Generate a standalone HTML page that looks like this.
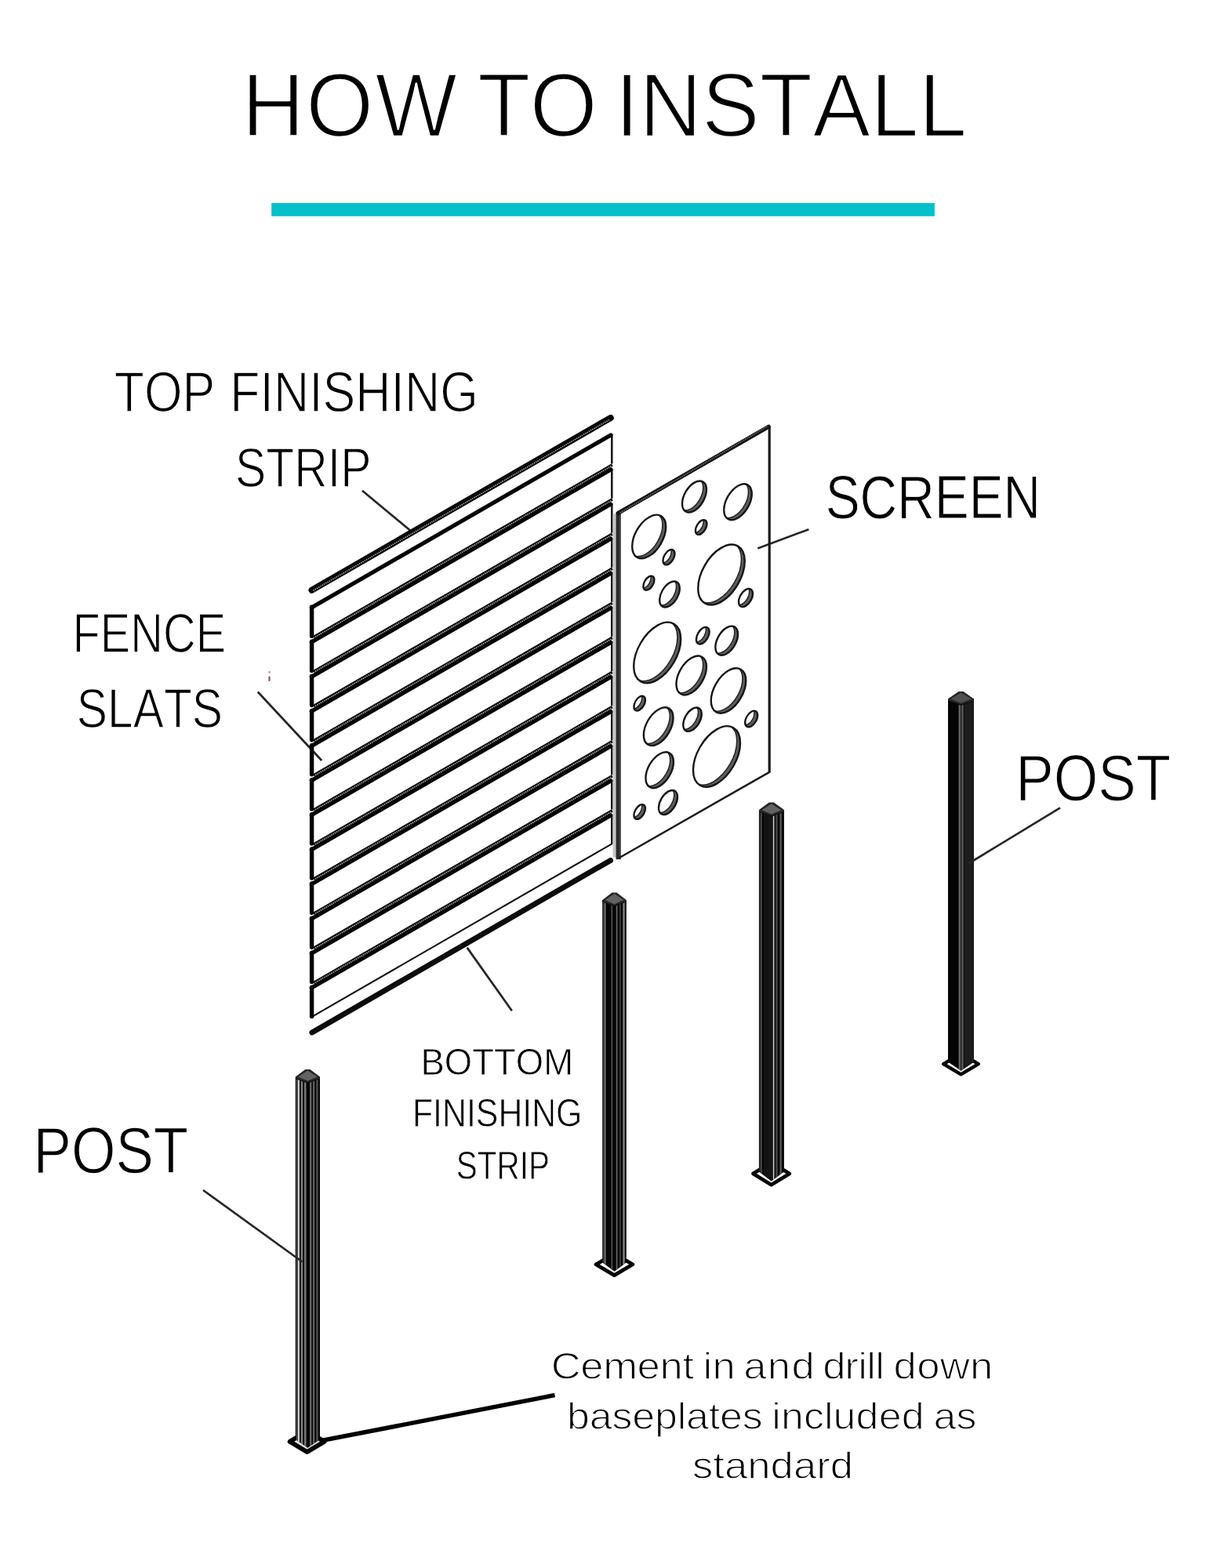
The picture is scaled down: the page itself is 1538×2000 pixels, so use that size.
<!DOCTYPE html>
<html lang="en">
<head>
<meta charset="utf-8">
<title>How to install</title>
<style>
html,body{margin:0;padding:0;background:#fff;}
body{width:1538px;height:2000px;overflow:hidden;}
svg{display:block;will-change:transform;}
text{font-family:"Liberation Sans",sans-serif;white-space:pre;}
</style>
</head>
<body>
<svg width="1538" height="2000" viewBox="0 0 1538 2000">
<rect width="1538" height="2000" fill="#fff"/>
<rect x="346.2" y="259" width="845.7" height="16.8" fill="#04c0c9"/>
<text transform="scale(0.9604 1)" x="321 406.17 498.02 608.24 633.93 703.49 792.86 816.71 848.58 931.75 1008.56 1078.88 1155.71 1219.75" y="174" font-size="115.7" fill="#000" stroke="#fff" stroke-width="2.6" stroke-linejoin="round">HOW TO INSTALL</text>
<text transform="scale(0.8694 1)" x="167.78 211.67 267.56 315.52 337.35 381.34 401.37 453.38 473.41 521.46 573.47 593.51 645.53" y="524.8" font-size="71.95" fill="#000" stroke="#fff" stroke-width="1.4" stroke-linejoin="round">TOP FINISHING</text>
<text transform="scale(0.8282 1)" x="362.31 409.72 453.13 504.46 524.21" y="621.4" font-size="71.08" fill="#000" stroke="#fff" stroke-width="1.4" stroke-linejoin="round">STRIP</text>
<text transform="scale(0.8503 1)" x="1237.96 1289.63 1345.58 1401.53 1453.2 1504.87" y="661.1" font-size="77.47" fill="#000" stroke="#fff" stroke-width="1" stroke-linejoin="round">SCREEN</text>
<text transform="scale(0.8271 1)" x="111.94 154.56 201.09 251.48 301.86" y="832.5" font-size="69.77" fill="#000" stroke="#fff" stroke-width="1.4" stroke-linejoin="round">FENCE</text>
<text transform="scale(0.8387 1)" x="116.66 163.39 202.36 249.08 291.88" y="927.8" font-size="70.06" fill="#000" stroke="#fff" stroke-width="1.4" stroke-linejoin="round">SLATS</text>
<text transform="scale(0.87 1)" x="1488.83 1544.58 1609.59 1665.33" y="1020.65" font-size="83.58" fill="#000" stroke="#fff" stroke-width="1.3" stroke-linejoin="round">POST</text>
<text transform="scale(0.8721 1)" x="48.7 104.25 169.03 224.59" y="1496.45" font-size="83.28" fill="#000" stroke="#fff" stroke-width="1.3" stroke-linejoin="round">POST</text>
<text transform="scale(0.9316 1)" x="575.87 608.45 646.43 676.27 706.1 744.08" y="1371.1" font-size="48.84" fill="#000" stroke="#fff" stroke-width="0.8" stroke-linejoin="round">BOTTOM</text>
<text transform="scale(0.8717 1)" x="603.34 633.35 647 682.48 696.13 728.9 764.38 778.02 813.5" y="1437.1" font-size="49.13" fill="#000" stroke="#fff" stroke-width="0.8" stroke-linejoin="round">FINISHING</text>
<text transform="scale(0.8169 1)" x="712.28 745.34 775.61 811.41 825.18" y="1504.1" font-size="49.56" fill="#000" stroke="#fff" stroke-width="0.8" stroke-linejoin="round">STRIP</text>
<text transform="scale(1.0987 1)" x="639.63 673.84 700.04 739.53 765.83 792.23 805.46 815.93 826.84 853.71 862.99 890.93 918.87 946.19 954.98 980.57 995.87 1005.98 1016.09 1026.48 1037.24 1064.12 1091.02 1125.88" y="1759.15" font-size="48" fill="#000" stroke="#fff" stroke-width="1.3" stroke-linejoin="round">Cement in and drill down</text>
<text transform="scale(1.0824 1)" x="667.97 694.48 721.01 744.84 771.35 797.92 808.46 835.02 848.22 874.74 898.66 909.34 920.09 946.89 970.97 981.71 1008.52 1035.33 1062.15 1088.9 1099.84 1126.6" y="1822.75" font-size="48" fill="#000" stroke="#fff" stroke-width="1.3" stroke-linejoin="round">baseplates included as</text>
<text transform="scale(1.0985 1)" x="803.76 827.76 841.09 867.79 894.49 921.18 947.88 963.86" y="1885.95" font-size="48" fill="#000" stroke="#fff" stroke-width="1.3" stroke-linejoin="round">standard</text>
<line x1="461.9" y1="625.7" x2="523.3" y2="676.7" stroke="#262626" stroke-width="2.7" stroke-linecap="butt"/>
<line x1="328.8" y1="882.5" x2="410.2" y2="970" stroke="#262626" stroke-width="2.7" stroke-linecap="butt"/>
<line x1="966.3" y1="699.4" x2="1031.4" y2="675.2" stroke="#262626" stroke-width="2.7" stroke-linecap="butt"/>
<line x1="595.6" y1="1208.6" x2="652.8" y2="1289.2" stroke="#262626" stroke-width="2.7" stroke-linecap="butt"/>
<line x1="410" y1="1837.6" x2="707.5" y2="1779.6" stroke="#000" stroke-width="5.6" stroke-linecap="butt"/>
<rect x="342.4" y="856.2" width="2.2" height="2.4" rx="1" fill="#a07070"/>
<rect x="342.3" y="862.6" width="2.4" height="6.4" rx="1.1" fill="#a4575a"/>
<g fill="none">
<line x1="397.6" y1="752.73" x2="778.7" y2="532.93" stroke="#0a0a0a" stroke-width="8.2" stroke-linecap="round"/>
<line x1="399.5" y1="753.13" x2="777.5" y2="535.12" stroke="#c2c2c2" stroke-width="1.5" stroke-linecap="butt" stroke-dasharray="1.3 1.3"/>
<line x1="780.3" y1="554" x2="780.3" y2="591.5" stroke="#151515" stroke-width="2.5" stroke-linecap="butt"/>
<line x1="397.6" y1="774.2" x2="397.6" y2="811.4" stroke="#000" stroke-width="5.4" stroke-linecap="round"/>
<line x1="397.3" y1="775" x2="778.9" y2="554.92" stroke="#050505" stroke-width="5.2" stroke-linecap="round"/>
<line x1="780.3" y1="598.1" x2="780.3" y2="635.6" stroke="#151515" stroke-width="2.5" stroke-linecap="butt"/>
<line x1="397.6" y1="818.3" x2="397.6" y2="855.5" stroke="#000" stroke-width="5.4" stroke-linecap="round"/>
<line x1="400.1" y1="812.49" x2="780.9" y2="592.86" stroke="#0c0c0c" stroke-width="3.7" stroke-linecap="butt"/>
<line x1="402.1" y1="812.33" x2="779.3" y2="594.78" stroke="#c2c2c2" stroke-width="1.7" stroke-linecap="butt" stroke-dasharray="1.3 1.3"/>
<line x1="397.3" y1="819.1" x2="778.9" y2="599.02" stroke="#050505" stroke-width="5.2" stroke-linecap="round"/>
<line x1="780.3" y1="642.2" x2="780.3" y2="679.7" stroke="#151515" stroke-width="2.5" stroke-linecap="butt"/>
<line x1="397.6" y1="862.4" x2="397.6" y2="899.6" stroke="#000" stroke-width="5.4" stroke-linecap="round"/>
<line x1="400.1" y1="856.59" x2="780.9" y2="636.96" stroke="#0c0c0c" stroke-width="3.7" stroke-linecap="butt"/>
<line x1="402.1" y1="856.43" x2="779.3" y2="638.88" stroke="#c2c2c2" stroke-width="1.7" stroke-linecap="butt" stroke-dasharray="1.3 1.3"/>
<line x1="397.3" y1="863.2" x2="778.9" y2="643.12" stroke="#050505" stroke-width="5.2" stroke-linecap="round"/>
<line x1="780.3" y1="686.3" x2="780.3" y2="723.8" stroke="#151515" stroke-width="2.5" stroke-linecap="butt"/>
<line x1="397.6" y1="906.5" x2="397.6" y2="943.7" stroke="#000" stroke-width="5.4" stroke-linecap="round"/>
<line x1="400.1" y1="900.69" x2="780.9" y2="681.06" stroke="#0c0c0c" stroke-width="3.7" stroke-linecap="butt"/>
<line x1="402.1" y1="900.53" x2="779.3" y2="682.98" stroke="#c2c2c2" stroke-width="1.7" stroke-linecap="butt" stroke-dasharray="1.3 1.3"/>
<line x1="397.3" y1="907.3" x2="778.9" y2="687.22" stroke="#050505" stroke-width="5.2" stroke-linecap="round"/>
<line x1="780.3" y1="730.4" x2="780.3" y2="767.9" stroke="#151515" stroke-width="2.5" stroke-linecap="butt"/>
<line x1="397.6" y1="950.6" x2="397.6" y2="987.8" stroke="#000" stroke-width="5.4" stroke-linecap="round"/>
<line x1="400.1" y1="944.79" x2="780.9" y2="725.16" stroke="#0c0c0c" stroke-width="3.7" stroke-linecap="butt"/>
<line x1="402.1" y1="944.63" x2="779.3" y2="727.08" stroke="#c2c2c2" stroke-width="1.7" stroke-linecap="butt" stroke-dasharray="1.3 1.3"/>
<line x1="397.3" y1="951.4" x2="778.9" y2="731.32" stroke="#050505" stroke-width="5.2" stroke-linecap="round"/>
<line x1="780.3" y1="774.5" x2="780.3" y2="812" stroke="#151515" stroke-width="2.5" stroke-linecap="butt"/>
<line x1="397.6" y1="994.7" x2="397.6" y2="1031.9" stroke="#000" stroke-width="5.4" stroke-linecap="round"/>
<line x1="400.1" y1="988.89" x2="780.9" y2="769.26" stroke="#0c0c0c" stroke-width="3.7" stroke-linecap="butt"/>
<line x1="402.1" y1="988.73" x2="779.3" y2="771.18" stroke="#c2c2c2" stroke-width="1.7" stroke-linecap="butt" stroke-dasharray="1.3 1.3"/>
<line x1="397.3" y1="995.5" x2="778.9" y2="775.42" stroke="#050505" stroke-width="5.2" stroke-linecap="round"/>
<line x1="780.3" y1="818.6" x2="780.3" y2="856.1" stroke="#151515" stroke-width="2.5" stroke-linecap="butt"/>
<line x1="397.6" y1="1038.8" x2="397.6" y2="1076" stroke="#000" stroke-width="5.4" stroke-linecap="round"/>
<line x1="400.1" y1="1032.99" x2="780.9" y2="813.36" stroke="#0c0c0c" stroke-width="3.7" stroke-linecap="butt"/>
<line x1="402.1" y1="1032.83" x2="779.3" y2="815.28" stroke="#c2c2c2" stroke-width="1.7" stroke-linecap="butt" stroke-dasharray="1.3 1.3"/>
<line x1="397.3" y1="1039.6" x2="778.9" y2="819.52" stroke="#050505" stroke-width="5.2" stroke-linecap="round"/>
<line x1="780.3" y1="862.7" x2="780.3" y2="900.2" stroke="#151515" stroke-width="2.5" stroke-linecap="butt"/>
<line x1="397.6" y1="1082.9" x2="397.6" y2="1120.1" stroke="#000" stroke-width="5.4" stroke-linecap="round"/>
<line x1="400.1" y1="1077.09" x2="780.9" y2="857.46" stroke="#0c0c0c" stroke-width="3.7" stroke-linecap="butt"/>
<line x1="402.1" y1="1076.93" x2="779.3" y2="859.38" stroke="#c2c2c2" stroke-width="1.7" stroke-linecap="butt" stroke-dasharray="1.3 1.3"/>
<line x1="397.3" y1="1083.7" x2="778.9" y2="863.62" stroke="#050505" stroke-width="5.2" stroke-linecap="round"/>
<line x1="780.3" y1="906.8" x2="780.3" y2="944.3" stroke="#151515" stroke-width="2.5" stroke-linecap="butt"/>
<line x1="397.6" y1="1127" x2="397.6" y2="1164.2" stroke="#000" stroke-width="5.4" stroke-linecap="round"/>
<line x1="400.1" y1="1121.19" x2="780.9" y2="901.56" stroke="#0c0c0c" stroke-width="3.7" stroke-linecap="butt"/>
<line x1="402.1" y1="1121.03" x2="779.3" y2="903.48" stroke="#c2c2c2" stroke-width="1.7" stroke-linecap="butt" stroke-dasharray="1.3 1.3"/>
<line x1="397.3" y1="1127.8" x2="778.9" y2="907.72" stroke="#050505" stroke-width="5.2" stroke-linecap="round"/>
<line x1="780.3" y1="950.9" x2="780.3" y2="988.4" stroke="#151515" stroke-width="2.5" stroke-linecap="butt"/>
<line x1="397.6" y1="1171.1" x2="397.6" y2="1208.3" stroke="#000" stroke-width="5.4" stroke-linecap="round"/>
<line x1="400.1" y1="1165.29" x2="780.9" y2="945.66" stroke="#0c0c0c" stroke-width="3.7" stroke-linecap="butt"/>
<line x1="402.1" y1="1165.13" x2="779.3" y2="947.58" stroke="#c2c2c2" stroke-width="1.7" stroke-linecap="butt" stroke-dasharray="1.3 1.3"/>
<line x1="397.3" y1="1171.9" x2="778.9" y2="951.82" stroke="#050505" stroke-width="5.2" stroke-linecap="round"/>
<line x1="780.3" y1="995" x2="780.3" y2="1032.5" stroke="#151515" stroke-width="2.5" stroke-linecap="butt"/>
<line x1="397.6" y1="1215.2" x2="397.6" y2="1252.4" stroke="#000" stroke-width="5.4" stroke-linecap="round"/>
<line x1="400.1" y1="1209.39" x2="780.9" y2="989.76" stroke="#0c0c0c" stroke-width="3.7" stroke-linecap="butt"/>
<line x1="402.1" y1="1209.23" x2="779.3" y2="991.68" stroke="#c2c2c2" stroke-width="1.7" stroke-linecap="butt" stroke-dasharray="1.3 1.3"/>
<line x1="397.3" y1="1216" x2="778.9" y2="995.92" stroke="#050505" stroke-width="5.2" stroke-linecap="round"/>
<line x1="780.3" y1="1039.1" x2="780.3" y2="1076.6" stroke="#151515" stroke-width="2.5" stroke-linecap="butt"/>
<line x1="397.6" y1="1259.3" x2="397.6" y2="1296.5" stroke="#000" stroke-width="5.4" stroke-linecap="round"/>
<line x1="400.1" y1="1253.49" x2="780.9" y2="1033.86" stroke="#0c0c0c" stroke-width="3.7" stroke-linecap="butt"/>
<line x1="402.1" y1="1253.33" x2="779.3" y2="1035.78" stroke="#c2c2c2" stroke-width="1.7" stroke-linecap="butt" stroke-dasharray="1.3 1.3"/>
<line x1="397.3" y1="1260.1" x2="778.9" y2="1040.02" stroke="#050505" stroke-width="5.2" stroke-linecap="round"/>
<line x1="399.6" y1="1295.87" x2="780.7" y2="1076.08" stroke="#111" stroke-width="2.1" stroke-linecap="butt"/>
<line x1="397.9" y1="1316.95" x2="778.6" y2="1097.39" stroke="#0d0d0d" stroke-width="6.9" stroke-linecap="round"/>
</g>
<g fill="none">
<rect x="781.6" y="655.5" width="4.4" height="438.1" fill="#c6c6c6"/>
<rect x="785.6" y="654.5" width="6.2" height="441.6" fill="#2b2b2b"/>
<rect x="790.2" y="658.5" width="1.6" height="433.1" fill="#555"/>
<line x1="788.2" y1="654.5" x2="980.2" y2="544.2" stroke="#161616" stroke-width="5.2" stroke-linecap="round"/>
<line x1="791" y1="653.9" x2="978.6" y2="543.9" stroke="#8c8c8c" stroke-width="1.3" stroke-linecap="butt" stroke-dasharray="1.3 1.3"/>
<line x1="981.2" y1="544.5" x2="981.2" y2="984.3" stroke="#1a1a1a" stroke-width="3.2" stroke-linecap="round"/>
<line x1="790" y1="1094" x2="981.2" y2="984.8" stroke="#1a1a1a" stroke-width="2.5" stroke-linecap="round"/>
</g>
<defs>
<clipPath id="h0"><circle r="17.9" transform="matrix(0.866 -0.5 0 1 885.5 633.5)"/></clipPath>
<clipPath id="h1"><circle r="20.5" transform="matrix(0.866 -0.5 0 1 941 640.2)"/></clipPath>
<clipPath id="h2"><circle r="24.83" transform="matrix(0.866 -0.5 0 1 827.7 684.5)"/></clipPath>
<clipPath id="h3"><circle r="8.37" transform="matrix(0.866 -0.5 0 1 894.2 672.5)"/></clipPath>
<clipPath id="h4"><circle r="8.66" transform="matrix(0.866 -0.5 0 1 853 710.7)"/></clipPath>
<clipPath id="h5"><circle r="34.35" transform="matrix(0.866 -0.5 0 1 920 733)"/></clipPath>
<clipPath id="h6"><circle r="8.08" transform="matrix(0.866 -0.5 0 1 827.4 743.7)"/></clipPath>
<clipPath id="h7"><circle r="14.78" transform="matrix(0.866 -0.5 0 1 854 758)"/></clipPath>
<clipPath id="h8"><circle r="10.39" transform="matrix(0.866 -0.5 0 1 951 762.5)"/></clipPath>
<clipPath id="h9"><circle r="34.64" transform="matrix(0.866 -0.5 0 1 838.2 832.5)"/></clipPath>
<clipPath id="h10"><circle r="9.64" transform="matrix(0.866 -0.5 0 1 896.3 810.7)"/></clipPath>
<clipPath id="h11"><circle r="16.57" transform="matrix(0.866 -0.5 0 1 926.7 817.2)"/></clipPath>
<clipPath id="h12"><circle r="22.23" transform="matrix(0.866 -0.5 0 1 881.7 861.5)"/></clipPath>
<clipPath id="h13"><circle r="25.69" transform="matrix(0.866 -0.5 0 1 929 881)"/></clipPath>
<clipPath id="h14"><circle r="8.37" transform="matrix(0.866 -0.5 0 1 815.7 897.2)"/></clipPath>
<clipPath id="h15"><circle r="21.77" transform="matrix(0.866 -0.5 0 1 839.7 926.7)"/></clipPath>
<clipPath id="h16"><circle r="13.57" transform="matrix(0.866 -0.5 0 1 883 917.7)"/></clipPath>
<clipPath id="h17"><circle r="9.24" transform="matrix(0.866 -0.5 0 1 958.2 917)"/></clipPath>
<clipPath id="h18"><circle r="34.64" transform="matrix(0.866 -0.5 0 1 914 965)"/></clipPath>
<clipPath id="h19"><circle r="20.5" transform="matrix(0.866 -0.5 0 1 841.2 982.2)"/></clipPath>
<clipPath id="h20"><circle r="13.86" transform="matrix(0.866 -0.5 0 1 852 1023.5)"/></clipPath>
<clipPath id="h21"><circle r="8.37" transform="matrix(0.866 -0.5 0 1 815.7 1035.5)"/></clipPath>
</defs>
<g clip-path="url(#h0)"><circle r="17.9" transform="matrix(0.866 -0.5 0 1 885.5 633.5)" fill="#5e5e5e"/><circle r="17.9" transform="matrix(0.866 -0.5 0 1 881.2 631)" fill="#fff" stroke="#242424" stroke-width="1.5" vector-effect="non-scaling-stroke"/></g>
<circle r="17.9" transform="matrix(0.866 -0.5 0 1 885.5 633.5)" fill="none" stroke="#161616" stroke-width="2.4" vector-effect="non-scaling-stroke"/>
<g clip-path="url(#h1)"><circle r="20.5" transform="matrix(0.866 -0.5 0 1 941 640.2)" fill="#5e5e5e"/><circle r="20.5" transform="matrix(0.866 -0.5 0 1 936.7 637.7)" fill="#fff" stroke="#242424" stroke-width="1.5" vector-effect="non-scaling-stroke"/></g>
<circle r="20.5" transform="matrix(0.866 -0.5 0 1 941 640.2)" fill="none" stroke="#161616" stroke-width="2.4" vector-effect="non-scaling-stroke"/>
<g clip-path="url(#h2)"><circle r="24.83" transform="matrix(0.866 -0.5 0 1 827.7 684.5)" fill="#5e5e5e"/><circle r="24.83" transform="matrix(0.866 -0.5 0 1 823.4 682)" fill="#fff" stroke="#242424" stroke-width="1.5" vector-effect="non-scaling-stroke"/></g>
<circle r="24.83" transform="matrix(0.866 -0.5 0 1 827.7 684.5)" fill="none" stroke="#161616" stroke-width="2.4" vector-effect="non-scaling-stroke"/>
<g clip-path="url(#h3)"><circle r="8.37" transform="matrix(0.866 -0.5 0 1 894.2 672.5)" fill="#5e5e5e"/><circle r="8.37" transform="matrix(0.866 -0.5 0 1 889.9 670)" fill="#fff" stroke="#242424" stroke-width="1.5" vector-effect="non-scaling-stroke"/></g>
<circle r="8.37" transform="matrix(0.866 -0.5 0 1 894.2 672.5)" fill="none" stroke="#161616" stroke-width="2.4" vector-effect="non-scaling-stroke"/>
<g clip-path="url(#h4)"><circle r="8.66" transform="matrix(0.866 -0.5 0 1 853 710.7)" fill="#5e5e5e"/><circle r="8.66" transform="matrix(0.866 -0.5 0 1 848.7 708.2)" fill="#fff" stroke="#242424" stroke-width="1.5" vector-effect="non-scaling-stroke"/></g>
<circle r="8.66" transform="matrix(0.866 -0.5 0 1 853 710.7)" fill="none" stroke="#161616" stroke-width="2.4" vector-effect="non-scaling-stroke"/>
<g clip-path="url(#h5)"><circle r="34.35" transform="matrix(0.866 -0.5 0 1 920 733)" fill="#5e5e5e"/><circle r="34.35" transform="matrix(0.866 -0.5 0 1 915.7 730.5)" fill="#fff" stroke="#242424" stroke-width="1.5" vector-effect="non-scaling-stroke"/></g>
<circle r="34.35" transform="matrix(0.866 -0.5 0 1 920 733)" fill="none" stroke="#161616" stroke-width="2.4" vector-effect="non-scaling-stroke"/>
<g clip-path="url(#h6)"><circle r="8.08" transform="matrix(0.866 -0.5 0 1 827.4 743.7)" fill="#5e5e5e"/><circle r="8.08" transform="matrix(0.866 -0.5 0 1 823.1 741.2)" fill="#fff" stroke="#242424" stroke-width="1.5" vector-effect="non-scaling-stroke"/></g>
<circle r="8.08" transform="matrix(0.866 -0.5 0 1 827.4 743.7)" fill="none" stroke="#161616" stroke-width="2.4" vector-effect="non-scaling-stroke"/>
<g clip-path="url(#h7)"><circle r="14.78" transform="matrix(0.866 -0.5 0 1 854 758)" fill="#5e5e5e"/><circle r="14.78" transform="matrix(0.866 -0.5 0 1 849.7 755.5)" fill="#fff" stroke="#242424" stroke-width="1.5" vector-effect="non-scaling-stroke"/></g>
<circle r="14.78" transform="matrix(0.866 -0.5 0 1 854 758)" fill="none" stroke="#161616" stroke-width="2.4" vector-effect="non-scaling-stroke"/>
<g clip-path="url(#h8)"><circle r="10.39" transform="matrix(0.866 -0.5 0 1 951 762.5)" fill="#5e5e5e"/><circle r="10.39" transform="matrix(0.866 -0.5 0 1 946.7 760)" fill="#fff" stroke="#242424" stroke-width="1.5" vector-effect="non-scaling-stroke"/></g>
<circle r="10.39" transform="matrix(0.866 -0.5 0 1 951 762.5)" fill="none" stroke="#161616" stroke-width="2.4" vector-effect="non-scaling-stroke"/>
<g clip-path="url(#h9)"><circle r="34.64" transform="matrix(0.866 -0.5 0 1 838.2 832.5)" fill="#5e5e5e"/><circle r="34.64" transform="matrix(0.866 -0.5 0 1 833.9 830)" fill="#fff" stroke="#242424" stroke-width="1.5" vector-effect="non-scaling-stroke"/></g>
<circle r="34.64" transform="matrix(0.866 -0.5 0 1 838.2 832.5)" fill="none" stroke="#161616" stroke-width="2.4" vector-effect="non-scaling-stroke"/>
<g clip-path="url(#h10)"><circle r="9.64" transform="matrix(0.866 -0.5 0 1 896.3 810.7)" fill="#5e5e5e"/><circle r="9.64" transform="matrix(0.866 -0.5 0 1 892 808.2)" fill="#fff" stroke="#242424" stroke-width="1.5" vector-effect="non-scaling-stroke"/></g>
<circle r="9.64" transform="matrix(0.866 -0.5 0 1 896.3 810.7)" fill="none" stroke="#161616" stroke-width="2.4" vector-effect="non-scaling-stroke"/>
<g clip-path="url(#h11)"><circle r="16.57" transform="matrix(0.866 -0.5 0 1 926.7 817.2)" fill="#5e5e5e"/><circle r="16.57" transform="matrix(0.866 -0.5 0 1 922.4 814.7)" fill="#fff" stroke="#242424" stroke-width="1.5" vector-effect="non-scaling-stroke"/></g>
<circle r="16.57" transform="matrix(0.866 -0.5 0 1 926.7 817.2)" fill="none" stroke="#161616" stroke-width="2.4" vector-effect="non-scaling-stroke"/>
<g clip-path="url(#h12)"><circle r="22.23" transform="matrix(0.866 -0.5 0 1 881.7 861.5)" fill="#5e5e5e"/><circle r="22.23" transform="matrix(0.866 -0.5 0 1 877.4 859)" fill="#fff" stroke="#242424" stroke-width="1.5" vector-effect="non-scaling-stroke"/></g>
<circle r="22.23" transform="matrix(0.866 -0.5 0 1 881.7 861.5)" fill="none" stroke="#161616" stroke-width="2.4" vector-effect="non-scaling-stroke"/>
<g clip-path="url(#h13)"><circle r="25.69" transform="matrix(0.866 -0.5 0 1 929 881)" fill="#5e5e5e"/><circle r="25.69" transform="matrix(0.866 -0.5 0 1 924.7 878.5)" fill="#fff" stroke="#242424" stroke-width="1.5" vector-effect="non-scaling-stroke"/></g>
<circle r="25.69" transform="matrix(0.866 -0.5 0 1 929 881)" fill="none" stroke="#161616" stroke-width="2.4" vector-effect="non-scaling-stroke"/>
<g clip-path="url(#h14)"><circle r="8.37" transform="matrix(0.866 -0.5 0 1 815.7 897.2)" fill="#5e5e5e"/><circle r="8.37" transform="matrix(0.866 -0.5 0 1 811.4 894.7)" fill="#fff" stroke="#242424" stroke-width="1.5" vector-effect="non-scaling-stroke"/></g>
<circle r="8.37" transform="matrix(0.866 -0.5 0 1 815.7 897.2)" fill="none" stroke="#161616" stroke-width="2.4" vector-effect="non-scaling-stroke"/>
<g clip-path="url(#h15)"><circle r="21.77" transform="matrix(0.866 -0.5 0 1 839.7 926.7)" fill="#5e5e5e"/><circle r="21.77" transform="matrix(0.866 -0.5 0 1 835.4 924.2)" fill="#fff" stroke="#242424" stroke-width="1.5" vector-effect="non-scaling-stroke"/></g>
<circle r="21.77" transform="matrix(0.866 -0.5 0 1 839.7 926.7)" fill="none" stroke="#161616" stroke-width="2.4" vector-effect="non-scaling-stroke"/>
<g clip-path="url(#h16)"><circle r="13.57" transform="matrix(0.866 -0.5 0 1 883 917.7)" fill="#5e5e5e"/><circle r="13.57" transform="matrix(0.866 -0.5 0 1 878.7 915.2)" fill="#fff" stroke="#242424" stroke-width="1.5" vector-effect="non-scaling-stroke"/></g>
<circle r="13.57" transform="matrix(0.866 -0.5 0 1 883 917.7)" fill="none" stroke="#161616" stroke-width="2.4" vector-effect="non-scaling-stroke"/>
<g clip-path="url(#h17)"><circle r="9.24" transform="matrix(0.866 -0.5 0 1 958.2 917)" fill="#5e5e5e"/><circle r="9.24" transform="matrix(0.866 -0.5 0 1 953.9 914.5)" fill="#fff" stroke="#242424" stroke-width="1.5" vector-effect="non-scaling-stroke"/></g>
<circle r="9.24" transform="matrix(0.866 -0.5 0 1 958.2 917)" fill="none" stroke="#161616" stroke-width="2.4" vector-effect="non-scaling-stroke"/>
<g clip-path="url(#h18)"><circle r="34.64" transform="matrix(0.866 -0.5 0 1 914 965)" fill="#5e5e5e"/><circle r="34.64" transform="matrix(0.866 -0.5 0 1 909.7 962.5)" fill="#fff" stroke="#242424" stroke-width="1.5" vector-effect="non-scaling-stroke"/></g>
<circle r="34.64" transform="matrix(0.866 -0.5 0 1 914 965)" fill="none" stroke="#161616" stroke-width="2.4" vector-effect="non-scaling-stroke"/>
<g clip-path="url(#h19)"><circle r="20.5" transform="matrix(0.866 -0.5 0 1 841.2 982.2)" fill="#5e5e5e"/><circle r="20.5" transform="matrix(0.866 -0.5 0 1 836.9 979.7)" fill="#fff" stroke="#242424" stroke-width="1.5" vector-effect="non-scaling-stroke"/></g>
<circle r="20.5" transform="matrix(0.866 -0.5 0 1 841.2 982.2)" fill="none" stroke="#161616" stroke-width="2.4" vector-effect="non-scaling-stroke"/>
<g clip-path="url(#h20)"><circle r="13.86" transform="matrix(0.866 -0.5 0 1 852 1023.5)" fill="#5e5e5e"/><circle r="13.86" transform="matrix(0.866 -0.5 0 1 847.7 1021)" fill="#fff" stroke="#242424" stroke-width="1.5" vector-effect="non-scaling-stroke"/></g>
<circle r="13.86" transform="matrix(0.866 -0.5 0 1 852 1023.5)" fill="none" stroke="#161616" stroke-width="2.4" vector-effect="non-scaling-stroke"/>
<g clip-path="url(#h21)"><circle r="8.37" transform="matrix(0.866 -0.5 0 1 815.7 1035.5)" fill="#5e5e5e"/><circle r="8.37" transform="matrix(0.866 -0.5 0 1 811.4 1033)" fill="#fff" stroke="#242424" stroke-width="1.5" vector-effect="non-scaling-stroke"/></g>
<circle r="8.37" transform="matrix(0.866 -0.5 0 1 815.7 1035.5)" fill="none" stroke="#161616" stroke-width="2.4" vector-effect="non-scaling-stroke"/>
<polygon points="369.6,1838.7 391.65,1825.4 413.7,1838.7 391.65,1852" fill="#e2e2e2" stroke="#050505" stroke-width="5.8" stroke-linejoin="round"/>
<clipPath id="pc1"><path d="M376.8 1373.6 L408 1373.6 L408 1836.1 L392.4 1846.7 L376.8 1836.1 Z"/></clipPath>
<path d="M376.8 1373.6 L408 1373.6 L408 1836.1 L392.4 1846.7 L376.8 1836.1 Z" fill="#050505"/>
<g clip-path="url(#pc1)">
<rect x="378.1" y="1376.6" width="1.2" height="473.1" fill="#6a6a6a"/>
<rect x="379.9" y="1376.6" width="2" height="473.1" fill="#dadada"/>
<rect x="383.7" y="1376.6" width="2.5" height="473.1" fill="#808080"/>
<rect x="388" y="1376.6" width="2.5" height="473.1" fill="#767676"/>
<rect x="395.1" y="1376.6" width="2.2" height="473.1" fill="#6c6c6c"/>
<rect x="399" y="1376.6" width="2.3" height="473.1" fill="#606060"/>
<rect x="403.3" y="1376.6" width="2.3" height="473.1" fill="#525252"/>
<polygon points="376.8,1372.6 376.8,1376.1 392.4,1382.1 408,1376.1 408,1372.6" fill="#0a0a0a"/>
</g>
<polygon points="376.8,1375.6 377.4,1373 389.4,1364 395.4,1364 407.4,1373 408,1375.6 392.4,1380.6" fill="#262626"/>
<polygon points="380.3,1373.6 392.4,1365.6 404.5,1373.6 392.4,1378.8" fill="#626262"/>
<polygon points="760.1,1612.8 783.45,1599 806.8,1612.8 783.45,1626.6" fill="#fff" stroke="#050505" stroke-width="4.8" stroke-linejoin="round"/>
<clipPath id="pc2"><path d="M768.2 1148 L798.8 1148 L798.8 1610.2 L783.5 1621.8 L768.2 1610.2 Z"/></clipPath>
<path d="M768.2 1148 L798.8 1148 L798.8 1610.2 L783.5 1621.8 L768.2 1610.2 Z" fill="#050505"/>
<g clip-path="url(#pc2)">
<rect x="768.8" y="1151" width="1" height="473.8" fill="#4a4a4a"/>
<rect x="770.6" y="1151" width="1.9" height="473.8" fill="#7c7c7c"/>
<rect x="779.6" y="1151" width="1.5" height="473.8" fill="#5a5a5a"/>
<rect x="785.8" y="1151" width="1.6" height="473.8" fill="#6c6c6c"/>
<rect x="790.1" y="1151" width="1.6" height="473.8" fill="#484848"/>
<rect x="794.4" y="1151" width="2.3" height="473.8" fill="#8a8a8a"/>
<polygon points="768.2,1147 768.2,1150.5 783.5,1156.5 798.8,1150.5 798.8,1147" fill="#0a0a0a"/>
</g>
<polygon points="768.2,1150 768.8,1147.4 780.5,1138.4 786.5,1138.4 798.2,1147.4 798.8,1150 783.5,1155" fill="#262626"/>
<polygon points="771.7,1148 783.5,1140 795.3,1148 783.5,1153.2" fill="#626262"/>
<polygon points="960.4,1497 983.65,1482.7 1006.9,1497 983.65,1511.3" fill="#fff" stroke="#050505" stroke-width="4.6" stroke-linejoin="round"/>
<clipPath id="pc3"><path d="M967.9 1033.2 L999.9 1033.2 L999.9 1494.4 L983.9 1506.6 L967.9 1494.4 Z"/></clipPath>
<path d="M967.9 1033.2 L999.9 1033.2 L999.9 1494.4 L983.9 1506.6 L967.9 1494.4 Z" fill="#050505"/>
<g clip-path="url(#pc3)">
<rect x="968.5" y="1036.2" width="1" height="473.4" fill="#3a3a3a"/>
<rect x="969.8" y="1036.2" width="2" height="473.4" fill="#484848"/>
<rect x="973.9" y="1036.2" width="11" height="473.4" fill="#141414"/>
<rect x="985.8" y="1036.2" width="1.6" height="473.4" fill="#cfcfcf"/>
<rect x="989.3" y="1036.2" width="2.4" height="473.4" fill="#484848"/>
<rect x="994.4" y="1036.2" width="2.4" height="473.4" fill="#585858"/>
<polygon points="967.9,1032.2 967.9,1035.7 983.9,1041.7 999.9,1035.7 999.9,1032.2" fill="#0a0a0a"/>
</g>
<polygon points="967.9,1035.2 968.5,1032.6 980.9,1023.6 986.9,1023.6 999.3,1032.6 999.9,1035.2 983.9,1040.2" fill="#262626"/>
<polygon points="971.4,1033.2 983.9,1025.2 996.4,1033.2 983.9,1038.4" fill="#626262"/>
<polygon points="1203.2,1357.2 1225.5,1344 1247.8,1357.2 1225.5,1370.4" fill="#fff" stroke="#050505" stroke-width="4.4" stroke-linejoin="round"/>
<clipPath id="pc4"><path d="M1209 891.6 L1242 891.6 L1242 1354.6 L1225.5 1365.8 L1209 1354.6 Z"/></clipPath>
<path d="M1209 891.6 L1242 891.6 L1242 1354.6 L1225.5 1365.8 L1209 1354.6 Z" fill="#050505"/>
<g clip-path="url(#pc4)">
<rect x="1222.6" y="894.6" width="2.2" height="474.2" fill="#6c6c6c"/>
<rect x="1224.8" y="894.6" width="1.6" height="474.2" fill="#2a2a2a"/>
<rect x="1226.4" y="894.6" width="2.2" height="474.2" fill="#5e5e5e"/>
<rect x="1229.4" y="894.6" width="12.6" height="474.2" fill="#1c1c1c"/>
<polygon points="1209,890.6 1209,894.1 1225.5,900.1 1242,894.1 1242,890.6" fill="#0a0a0a"/>
</g>
<polygon points="1209,893.6 1209.6,891 1222.5,882 1228.5,882 1241.4,891 1242,893.6 1225.5,898.6" fill="#262626"/>
<polygon points="1212.5,891.6 1225.5,883.6 1238.5,891.6 1225.5,896.8" fill="#505050"/>
<line x1="1352" y1="1030.3" x2="1234.3" y2="1102" stroke="#262626" stroke-width="2.7" stroke-linecap="butt"/>
<line x1="259" y1="1518" x2="385.5" y2="1609.5" stroke="#262626" stroke-width="2.7" stroke-linecap="butt"/>
</svg>
</body>
</html>
